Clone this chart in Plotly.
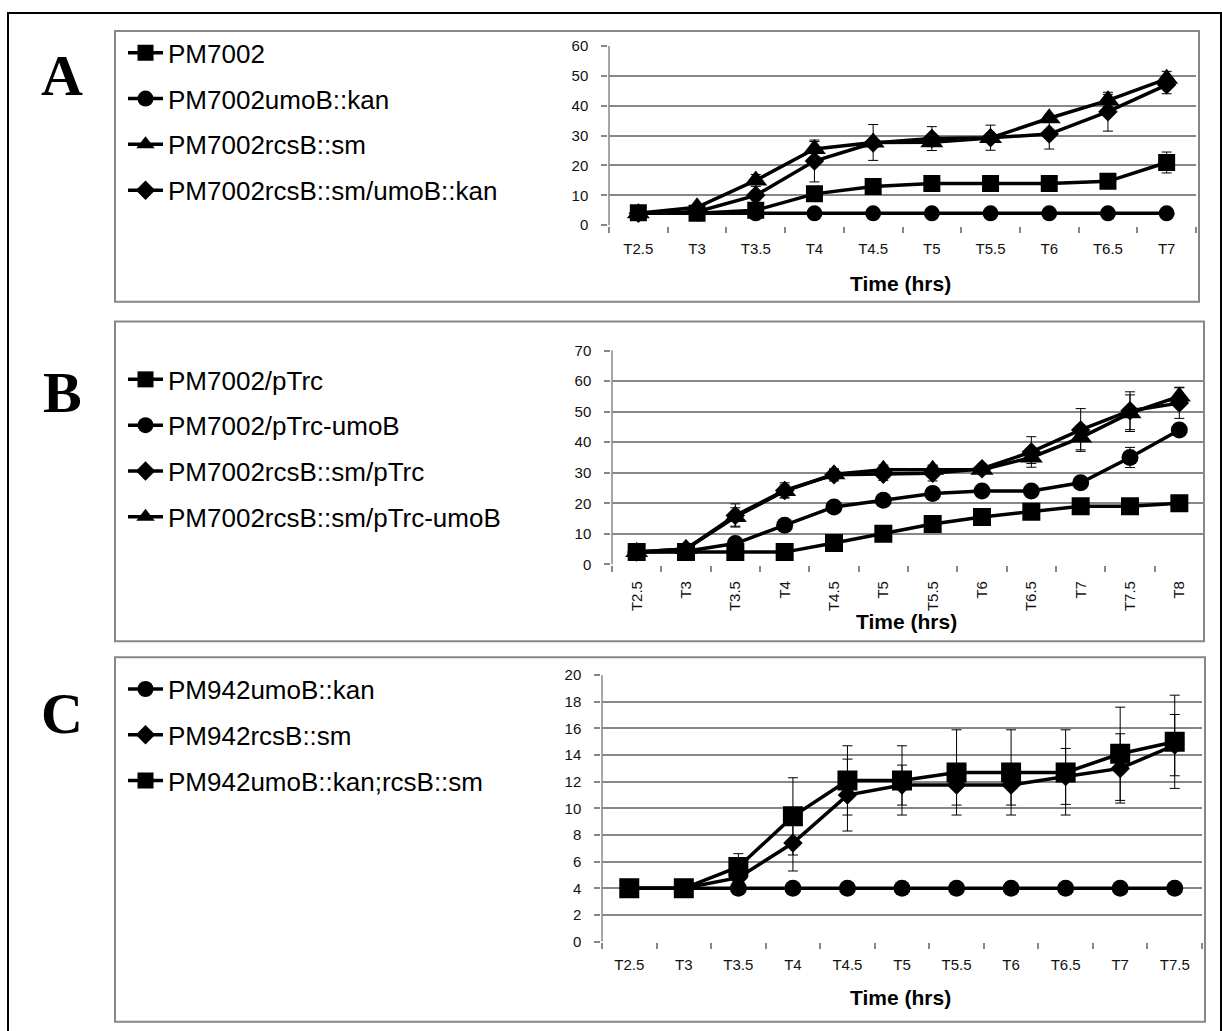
import plotly.graph_objects as go

# ---------------- data ----------------
cats_A = ["T2.5", "T3", "T3.5", "T4", "T4.5", "T5", "T5.5", "T6", "T6.5", "T7"]
A_pm7002 = [4.2, 4, 5, 10.5, 13, 14, 14, 14, 14.7, 21]
A_pm7002_err = [0, 0, 0.8, 2, 1, 0.8, 0.8, 0.8, 1, 3.5]
A_umoB = [4, 4, 4, 4, 4, 4, 4, 4, 4, 4]
A_umoB_err = [0, 0, 0, 0, 0, 0, 0, 0, 0, 0]
A_rcsB = [4, 6, 15, 25.5, 27.7, 27.8, 29.2, 35.8, 41.8, 49]
A_rcsB_err = [0, 0.5, 2, 2.5, 6, 1, 1.5, 1, 2, 2.5]
A_rcsB_umoB = [4, 4.5, 10, 21.5, 27.5, 29, 29.3, 30.5, 38, 47]
A_rcsB_umoB_err = [0, 0, 1.5, 7, 1, 4, 4.2, 5, 6.5, 3]

cats_B = ["T2.5", "T3", "T3.5", "T4", "T4.5", "T5", "T5.5", "T6", "T6.5", "T7", "T7.5", "T8"]
B_ptrc = [4, 4, 4, 4, 7, 10, 13.2, 15.5, 17.2, 19, 19, 20]
B_ptrc_err = [0, 0, 0, 0, 0.5, 0.8, 1, 1, 1, 1, 1, 1]
B_ptrc_umoB = [4, 4.3, 6.8, 12.8, 18.8, 21, 23.2, 24, 24, 26.7, 35, 44]
B_ptrc_umoB_err = [0, 0, 0.5, 1, 1, 1, 1, 1, 1, 1.2, 3.3, 1.5]
B_rcsB_ptrc = [4, 5, 16, 24.2, 29.3, 29.5, 29.8, 31.3, 36.8, 44, 50.3, 52.8]
B_rcsB_ptrc_err = [0, 0, 3.8, 2.5, 2, 2, 2.5, 1.5, 5, 7, 6.2, 5]
B_rcsB_ptrc_umoB = [4, 5, 15.5, 24, 29.5, 31, 31, 31, 35, 41.5, 49.5, 55]
B_rcsB_ptrc_umoB_err = [0, 0, 3, 2, 1.5, 1.5, 1.5, 1, 2, 4, 6, 3]

cats_C = ["T2.5", "T3", "T3.5", "T4", "T4.5", "T5", "T5.5", "T6", "T6.5", "T7", "T7.5"]
C_umoB = [4, 4, 4, 4, 4, 4, 4, 4, 4, 4, 4]
C_umoB_err = [0, 0, 0, 0, 0, 0, 0, 0, 0, 0, 0]
C_rcsB = [4, 4, 4.8, 7.4, 11, 11.75, 11.75, 11.75, 12.4, 13, 14.75]
C_rcsB_err = [0, 0, 0.5, 2.1, 2.7, 1.5, 1.5, 1.5, 2.1, 2.6, 2.3]
C_umoB_rcsB = [4, 4, 5.6, 9.4, 12.1, 12.1, 12.7, 12.7, 12.7, 14.1, 15]
C_umoB_rcsB_err = [0, 0, 1, 2.9, 2.6, 2.6, 3.2, 3.2, 3.2, 3.5, 3.5]

# ---------------- layout helpers ----------------
W, H = 1222, 1031
def PX(x):
    return x / W
def Y(y):
    # vertical page position, corrected for the observed capture offset/scale
    return (y - 8) / 0.9847
def PY(y):
    return 1 - min(Y(y), H) / H

SANS = "Liberation Sans, Arial, sans-serif"
SERIF = "Liberation Serif, Times New Roman, serif"
GRAY = "#878787"

fig = go.Figure()

def add(cats, vals, errs, name, symbol, size, xa, ya, legend, rank, z):
    fig.add_trace(go.Scatter(
        x=cats, y=vals, name=name, mode="lines+markers",
        line=dict(color="black", width=3.5),
        marker=dict(symbol=symbol, size=size, color="black", line=dict(width=0)),
        error_y=dict(type="data", array=errs, visible=True, color="black",
                     thickness=1, width=5),
        xaxis=xa, yaxis=ya, legend=legend, legendrank=rank,
        legendgroup=name, zorder=z, showlegend=True,
    ))

# Panel A
add(cats_A, A_pm7002, A_pm7002_err, "PM7002", "square", 17, "x", "y", "legend", 1, 4)
add(cats_A, A_umoB, A_umoB_err, "PM7002umoB::kan", "circle", 16, "x", "y", "legend", 2, 1)
add(cats_A, A_rcsB, A_rcsB_err, "PM7002rcsB::sm", "triangle-up", 20, "x", "y", "legend", 3, 3)
add(cats_A, A_rcsB_umoB, A_rcsB_umoB_err, "PM7002rcsB::sm/umoB::kan", "diamond", 15, "x", "y", "legend", 4, 2)

# Panel B
add(cats_B, B_ptrc, B_ptrc_err, "PM7002/pTrc", "square", 18, "x2", "y2", "legend2", 1, 4)
add(cats_B, B_ptrc_umoB, B_ptrc_umoB_err, "PM7002/pTrc-umoB", "circle", 17, "x2", "y2", "legend2", 2, 1)
add(cats_B, B_rcsB_ptrc, B_rcsB_ptrc_err, "PM7002rcsB::sm/pTrc", "diamond", 15, "x2", "y2", "legend2", 3, 2)
add(cats_B, B_rcsB_ptrc_umoB, B_rcsB_ptrc_umoB_err, "PM7002rcsB::sm/pTrc-umoB", "triangle-up", 20, "x2", "y2", "legend2", 4, 3)

# Panel C
add(cats_C, C_umoB, C_umoB_err, "PM942umoB::kan", "circle", 17, "x3", "y3", "legend3", 1, 1)
add(cats_C, C_rcsB, C_rcsB_err, "PM942rcsB::sm", "diamond", 15, "x3", "y3", "legend3", 2, 2)
add(cats_C, C_umoB_rcsB, C_umoB_rcsB_err, "PM942umoB::kan;rcsB::sm", "square", 20, "x3", "y3", "legend3", 3, 3)

def xax(n, x0, x1, anchor, tickangle=0):
    return dict(type="category", domain=[PX(x0), PX(x1)], anchor=anchor,
                range=[-0.5, n - 0.5], showline=True, linecolor=GRAY, linewidth=1.5,
                ticks="outside", tickson="boundaries", ticklen=6, tickwidth=1.5,
                tickcolor=GRAY, showgrid=False, zeroline=False, tickangle=tickangle,
                tickfont=dict(family=SANS, size=15, color="#111"),
                ticklabelstandoff=9, fixedrange=True)

def yax(y_top, y_bot, rng, dtick, anchor):
    return dict(domain=[PY(y_bot), PY(y_top)], anchor=anchor, range=rng, dtick=dtick,
                showline=True, linecolor=GRAY, linewidth=1.5, ticks="outside",
                ticklen=6, tickwidth=1.5, tickcolor=GRAY, showgrid=True,
                gridcolor=GRAY, gridwidth=1.5, zeroline=False,
                tickfont=dict(family=SANS, size=15, color="#111"),
                ticklabelstandoff=10, fixedrange=True)

def leg(first_item_y):
    top = Y(first_item_y) - 25
    return dict(x=PX(123), y=1 - top / H, xanchor="left", yanchor="top",
                font=dict(family=SANS, size=26, color="black"),
                bgcolor="rgba(0,0,0,0)", borderwidth=0, itemwidth=35,
                traceorder="grouped", tracegroupgap=9, itemclick=False)

fig.update_layout(
    width=W, height=H, margin=dict(l=0, r=0, t=0, b=0),
    paper_bgcolor="white", plot_bgcolor="white", showlegend=True,
    xaxis=xax(len(cats_A), 609, 1196, "y"),
    yaxis=yax(45, 224.5, [0, 60], 10, "x"),
    xaxis2=xax(len(cats_B), 612, 1204, "y2", tickangle=-90),
    yaxis2=yax(350, 564, [0, 70], 10, "x2"),
    xaxis3=xax(len(cats_C), 602, 1202, "y3"),
    yaxis3=yax(675, 941.7, [0, 20], 2, "x3"),
    legend=leg(53), legend2=leg(380), legend3=leg(690),
)

def rect(x0, x1, ytop, ybot, color, width):
    return dict(type="rect", xref="paper", yref="paper", x0=PX(x0), x1=PX(x1),
                y0=PY(ybot), y1=PY(ytop), line=dict(color=color, width=width), layer="below")

def vline(x, ytop, ybot):
    return dict(type="line", xref="paper", yref="paper", x0=PX(x), x1=PX(x),
                y0=PY(ybot), y1=PY(ytop), line=dict(color=GRAY, width=1.5), layer="above")

shapes = [
    dict(type="rect", xref="paper", yref="paper", x0=PX(8), x1=PX(1221), y0=-0.02, y1=PY(12),
         line=dict(color="black", width=2), layer="below"),
    rect(115, 1199, 30, 301, GRAY, 2),
    rect(115, 1204, 321, 641, GRAY, 2),
    rect(115, 1205, 657, 1022, GRAY, 2),
    vline(609, 45, 224.5),
    vline(612, 350, 564),
    vline(602, 675, 941.7),
]
fig.update_layout(shapes=shapes)

annotations = []
for letter, yc in [("A", 75), ("B", 392), ("C", 713)]:
    annotations.append(dict(text="<b>%s</b>" % letter, x=PX(62), y=PY(yc), xref="paper", yref="paper",
                            xanchor="center", yanchor="middle", showarrow=False,
                            font=dict(family=SERIF, size=58, color="black")))
for xc, yc in [(900, 283), (906, 621), (900, 998)]:
    annotations.append(dict(text="<b>Time (hrs)</b>", x=PX(xc), y=PY(yc), xref="paper", yref="paper",
                            xanchor="center", yanchor="middle", showarrow=False,
                            font=dict(family=SANS, size=21, color="black")))
fig.update_layout(annotations=annotations)

fig.write_html(
    "out.html",
    config={"responsive": False, "displayModeBar": False},
    post_script=(
        "var gd=document.getElementById('{plot_id}');"
        "gd.style.position='fixed';gd.style.left='0px';gd.style.top='0px';"
        "document.documentElement.style.margin='0px';"
        "document.documentElement.style.overflow='hidden';"
        "document.body.style.margin='0px';"
        "document.body.style.overflow='hidden';"
    ),
)
